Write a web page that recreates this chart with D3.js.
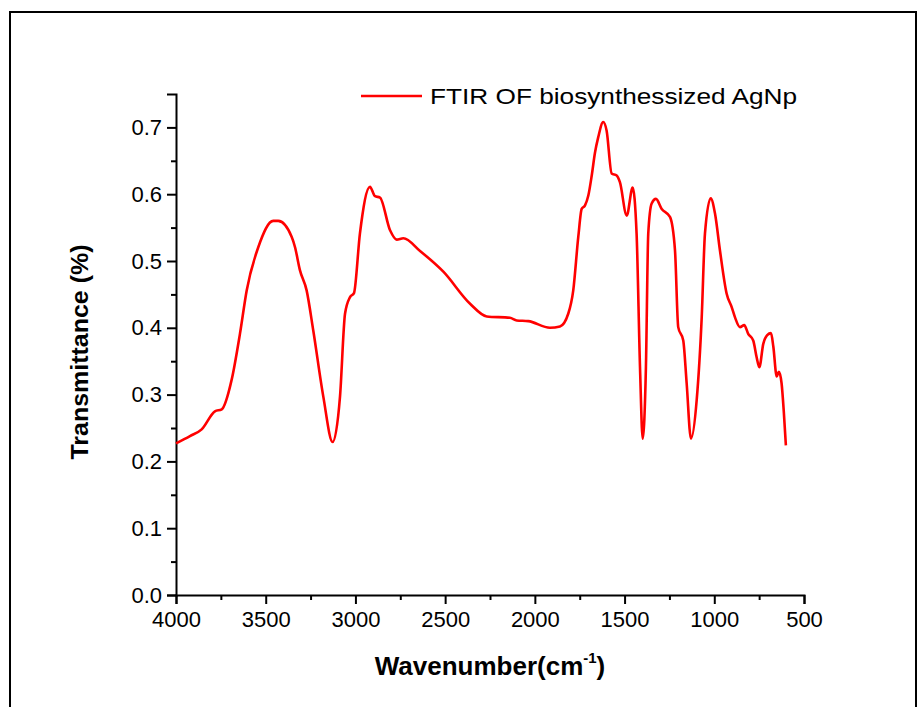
<!DOCTYPE html>
<html>
<head>
<meta charset="utf-8">
<script src="https://cdn.jsdelivr.net/npm/d3@7"></script>
<style>
    body { margin: 0; background: #fff; }
    svg text { font-family: "Liberation Sans", Arial, sans-serif; fill: #000; }
</style>
</head>
<body>
<div id="chart"></div>
<script>
'use strict';

// spectrum (cm-1 vs transmittance)
const wavenumbers = [4000, 3922, 3857, 3783, 3745, 3690, 3643, 3606, 3541, 3458, 3430, 3355, 3337, 3309,
    3272, 3235, 3179, 3127, 3086, 3058, 3030, 3008, 2975, 2919, 2891, 2863, 2807, 2770, 2733, 2640,
    2510, 2361, 2268, 2139, 2101, 2037, 1916, 1860, 1814, 1786, 1758, 1739, 1721, 1702, 1683, 1665,
    1647, 1619, 1600, 1572, 1544, 1526, 1488, 1455, 1433, 1414, 1399, 1381, 1368, 1349, 1325, 1293,
    1247, 1219, 1201, 1173, 1154, 1130, 1098, 1070, 1052, 1020, 996, 968, 931, 903, 885, 857, 833,
    811, 783, 764, 749, 727, 705, 684, 671, 652, 640, 625, 612, 601];
const transmittance = [0.227, 0.238, 0.248, 0.275, 0.278, 0.322, 0.392, 0.456, 0.521, 0.560, 0.560, 0.536, 0.521, 0.486,
    0.456, 0.396, 0.297, 0.229, 0.297, 0.421, 0.446, 0.452, 0.541, 0.611, 0.597, 0.595, 0.546, 0.532, 0.534, 0.515,
    0.484, 0.436, 0.417, 0.415, 0.411, 0.410, 0.400, 0.402, 0.421, 0.456, 0.536, 0.578, 0.583, 0.598, 0.628, 0.662,
    0.685, 0.708, 0.695, 0.631, 0.628, 0.618, 0.568, 0.610, 0.541, 0.341, 0.234, 0.341, 0.541, 0.586, 0.593, 0.578,
    0.566, 0.516, 0.401, 0.381, 0.317, 0.234, 0.292, 0.416, 0.541, 0.594, 0.571, 0.515, 0.451, 0.431, 0.416, 0.401, 0.404,
    0.391, 0.381, 0.356, 0.341, 0.376, 0.389, 0.392, 0.372, 0.327, 0.334, 0.317, 0.272, 0.224];
const xTicks = [4000, 3500, 3000, 2500, 2000, 1500, 1000, 500];
const yTicks = [0.0, 0.1, 0.2, 0.3, 0.4, 0.5, 0.6, 0.7];
const seriesName = "FTIR OF biosynthessized AgNp";

const W = 920, H = 707;
const margin = { left: 176, right: 116, top: 94, bottom: 112 };

const svg = d3.select("#chart")
    .append("svg")
    .attr("width", W)
    .attr("height", H);

svg.append("rect").attr("width", W).attr("height", H).attr("fill", "#fff");

// outer frame (bottom edge is off the page)
svg.append("rect")
    .attr("x", 10).attr("y", 12)
    .attr("width", 906).attr("height", 720)
    .attr("fill", "none").attr("stroke", "#000").attr("stroke-width", 2);

const x = d3.scaleLinear().domain([4000, 500]).range([margin.left, W - margin.right]);
const y = d3.scaleLinear().domain([0, 0.75]).range([H - margin.bottom, margin.top]);

// minor ticks
const xAxisG = svg.append("g").attr("transform", "translate(0," + y(0) + ")");
xAxisG.call(d3.axisBottom(x).tickValues(d3.range(3750, 500, -500)).tickSize(5).tickFormat(""));
xAxisG.call(g => g.select(".domain").remove());
xAxisG.append("g")
    .call(d3.axisBottom(x).tickValues(xTicks).tickSize(9).tickPadding(7).tickFormat(d3.format("d")));

const yAxisG = svg.append("g").attr("transform", "translate(" + x(4000) + ",0)");
yAxisG.call(d3.axisLeft(y).tickValues(d3.range(0.05, 0.75, 0.1)).tickSize(5).tickFormat(""));
yAxisG.call(g => g.select(".domain").remove());
yAxisG.append("g")
    .call(d3.axisLeft(y).tickValues(yTicks).tickSize(9).tickPadding(5).tickFormat(d3.format(".1f")));

svg.selectAll(".domain, .tick line").attr("stroke", "#000").attr("stroke-width", 2);
svg.selectAll(".tick text")
    .attr("font-size", 22)
    .style("font-family", "'Liberation Sans', Arial, sans-serif");

// spectrum
const pts = wavenumbers.map((w, i) => [w, transmittance[i]]);
const line = d3.line()
    .x(d => x(d[0]))
    .y(d => y(d[1]))
    .curve(d3.curveMonotoneX);

svg.append("path")
    .datum(pts)
    .attr("fill", "none")
    .attr("stroke", "#ff0000")
    .attr("stroke-width", 2.6)
    .attr("stroke-linejoin", "round")
    .attr("d", line);

// legend
svg.append("line")
    .attr("x1", 361).attr("x2", 422).attr("y1", 96).attr("y2", 96)
    .attr("stroke", "#ff0000").attr("stroke-width", 2.6);
svg.append("text")
    .attr("x", 430).attr("y", 104)
    .attr("font-size", 22)
    .attr("textLength", 367).attr("lengthAdjust", "spacingAndGlyphs")
    .text(seriesName);

// axis titles
svg.append("text")
    .attr("transform", "translate(88,352) rotate(-90)")
    .attr("text-anchor", "middle")
    .attr("font-size", 23)
    .attr("font-weight", "bold")
    .attr("textLength", 215).attr("lengthAdjust", "spacingAndGlyphs")
    .text("Transmittance (%)");

const xt = svg.append("text")
    .attr("x", 490).attr("y", 675)
    .attr("text-anchor", "middle")
    .attr("font-size", 26)
    .attr("font-weight", "bold");
xt.append("tspan").text("Wavenumber(cm");
xt.append("tspan").attr("font-size", 15).attr("dy", -12).text("-1");
xt.append("tspan").attr("dy", 12).text(")");
</script>
</body>
</html>
